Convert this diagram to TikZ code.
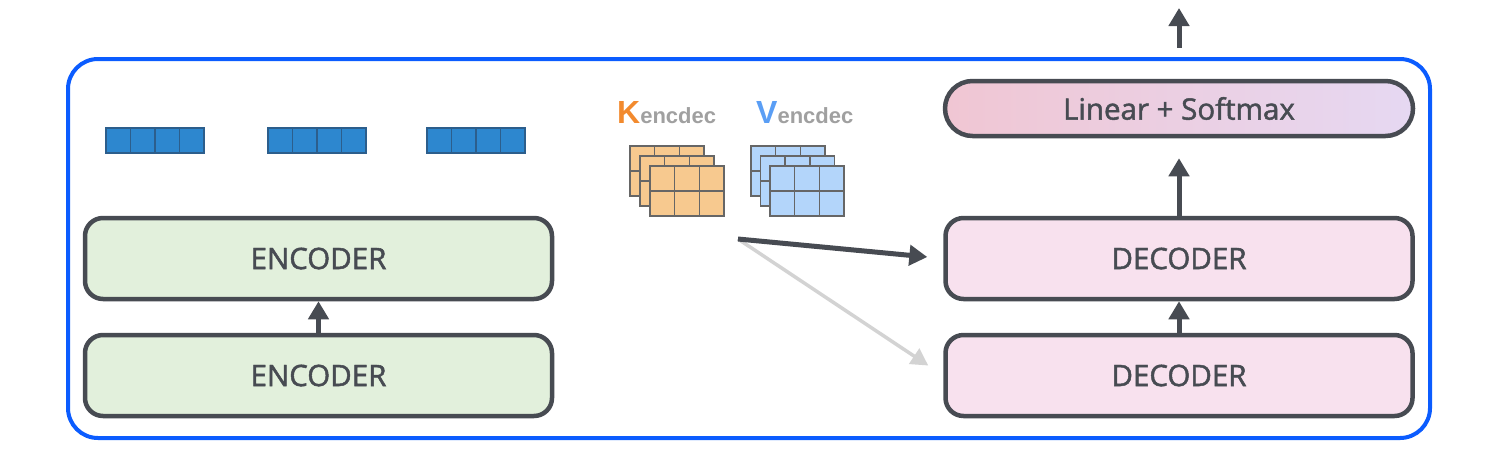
\documentclass[tikz,border=0pt]{standalone}
\usepackage{fontspec}
\setmainfont{Open Sans}
\newfontfamily\boxfont{Open Sans}[FakeBold=1.6]
\newfontfamily\kvfont{Liberation Sans}
\usetikzlibrary{arrows.meta}
\definecolor{frameblue}{HTML}{0B5CFF}
\definecolor{darkline}{HTML}{474B52}
\definecolor{encfill}{HTML}{E2F0DC}
\definecolor{decfill}{HTML}{F8E1EE}
\definecolor{linleft}{HTML}{F0C6D3}
\definecolor{linright}{HTML}{E6D8F2}
\definecolor{tokfill}{HTML}{2D87CF}
\definecolor{tokline}{HTML}{2C5E8C}
\definecolor{korange}{HTML}{F28A2E}
\definecolor{vblue}{HTML}{5A9EF5}
\definecolor{subgray}{HTML}{A0A0A0}
\definecolor{kfill}{HTML}{F7C98F}
\definecolor{vfill}{HTML}{B3D5FA}
\definecolor{gridline}{HTML}{666666}
\definecolor{lightarrow}{HTML}{D3D3D3}
\begin{document}
\begin{tikzpicture}[x=1pt,y=-1pt,
  layerbox/.style={draw=darkline, line width=4.5pt, rounded corners=18pt,
    minimum width=467pt, minimum height=81pt, inner sep=0pt,
    text=darkline, font=\boxfont\fontsize{29.5}{29.5}\selectfont},
  flowarrow/.style={draw=darkline, line width=5pt,
    -{Triangle[length=18pt,width=20pt]}},
  cellstyle/.style={line width=1.5pt},
  kvlabel/.style={anchor=base west, inner sep=0pt, font=\kvfont\bfseries}
]
\useasboundingbox (0,0) rectangle (1487,464);
% outer frame
\draw[frameblue, line width=4pt, rounded corners=30pt] (68,59) rectangle (1430,438);

% token bars
\foreach \bx in {106,268,427}{
  \foreach \i in {0,1,2,3}{
    \draw[fill=tokfill, draw=tokline, line width=1.2pt]
      ({\bx+\i*24.5},128) rectangle ++(24.5,25);
  }
}

% encoders
\node[layerbox, fill=encfill] (enc1) at (318.5,258.5) {ENCODER};
\node[layerbox, fill=encfill] (enc2) at (318.5,375.5) {ENCODER};
\draw[flowarrow] (enc2.north) -- (enc1.south);

% decoders
\node[layerbox, fill=decfill] (dec1) at (1179,258.5) {DECODER};
\node[layerbox, fill=decfill] (dec2) at (1179,375.5) {DECODER};
\draw[flowarrow] (dec2.north) -- (dec1.south);

% linear + softmax
\node[layerbox, minimum width=468pt, minimum height=55pt, rounded corners=27.5pt,
  left color=linleft, right color=linright] (lin) at (1179,108.5) {Linear + Softmax};
\draw[flowarrow, shorten >=20pt] (dec1.north) -- (lin.south);
\coordinate (outtop) at (1179,8);
\draw[flowarrow, shorten <=31pt] (lin.north) -- (outtop);

% K and V labels
\node[kvlabel] (klab) at (617,123)
  {\textcolor{korange}{\fontsize{32}{32}\selectfont K}\textcolor{subgray}{\fontsize{22}{22}\selectfont encdec}};
\node[kvlabel] (vlab) at (756,123)
  {\textcolor{vblue}{\fontsize{32}{32}\selectfont V}\textcolor{subgray}{\fontsize{22}{22}\selectfont encdec}};

% K grids
\foreach \gx/\gy in {630/146, 640/156, 650/166}{
  \draw[fill=kfill, draw=gridline, cellstyle] (\gx,\gy) rectangle ++(74,50);
  \draw[draw=gridline, cellstyle] ({\gx+24.67},\gy) -- ++(0,50)
    ({\gx+49.33},\gy) -- ++(0,50) (\gx,{\gy+25}) -- ++(74,0);
}
% V grids
\foreach \gx/\gy in {751/146, 760.5/156, 770/166}{
  \draw[fill=vfill, draw=gridline, cellstyle] (\gx,\gy) rectangle ++(74,50);
  \draw[draw=gridline, cellstyle] ({\gx+24.67},\gy) -- ++(0,50)
    ({\gx+49.33},\gy) -- ++(0,50) (\gx,{\gy+25}) -- ++(74,0);
}

% cross attention arrows
\coordinate (kvsrc) at (738,239);
\draw[draw=lightarrow, line width=3.5pt, -{Triangle[length=17pt,width=18pt]}, shorten >=18pt]
  (kvsrc) -- (dec2.west);
\draw[flowarrow, shorten >=16pt] (kvsrc) -- (dec1.west);
\end{tikzpicture}
\end{document}
